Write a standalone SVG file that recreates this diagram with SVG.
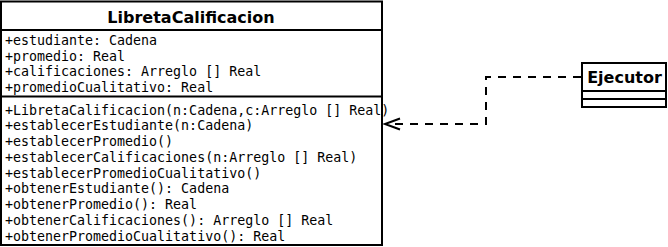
<svg xmlns="http://www.w3.org/2000/svg" width="668" height="247" viewBox="0 0 668 247">
  <style>
    .box { fill: #ffffff; stroke: #000000; stroke-width: 2; }
    .sep { stroke: #000000; stroke-width: 2; fill: none; }
    .title { font-family: "DejaVu Sans", sans-serif; font-weight: bold; font-size: 16px; fill: #000000; text-anchor: middle; }
    .member { font-family: "DejaVu Sans Mono", monospace; font-size: 13.3px; fill: #000000; }
    .dep { stroke: #000000; stroke-width: 2; fill: none; stroke-dasharray: 8 7; }
    .head { stroke: #000000; stroke-width: 2; fill: none; }
  </style>

  <g id="LibretaCalificacion">
    <rect class="box" x="1" y="1.5" width="381" height="243.5"/>
    <text class="title" x="191" y="22.5">LibretaCalificacion</text>
    <line class="sep" x1="1" y1="30" x2="382" y2="30"/>
    <text class="member" x="5" y="45">+estudiante: Cadena</text>
    <text class="member" x="5" y="60.7">+promedio: Real</text>
    <text class="member" x="5" y="76.4">+calificaciones: Arreglo [] Real</text>
    <text class="member" x="5" y="92">+promedioCualitativo: Real</text>
    <line class="sep" x1="1" y1="96.5" x2="382" y2="96.5"/>
    <text class="member" x="5" y="114.5">+LibretaCalificacion(n:Cadena,c:Arreglo [] Real)</text>
    <text class="member" x="5" y="130.3">+establecerEstudiante(n:Cadena)</text>
    <text class="member" x="5" y="146">+establecerPromedio()</text>
    <text class="member" x="5" y="161.8">+establecerCalificaciones(n:Arreglo [] Real)</text>
    <text class="member" x="5" y="177.5">+establecerPromedioCualitativo()</text>
    <text class="member" x="5" y="193.3">+obtenerEstudiante(): Cadena</text>
    <text class="member" x="5" y="209">+obtenerPromedio(): Real</text>
    <text class="member" x="5" y="224.8">+obtenerCalificaciones(): Arreglo [] Real</text>
    <text class="member" x="5" y="240.5">+obtenerPromedioCualitativo(): Real</text>
  </g>

  <g id="Ejecutor">
    <rect class="box" x="582" y="63" width="84" height="44"/>
    <text class="title" x="624.5" y="83">Ejecutor</text>
    <line class="sep" x1="582" y1="91" x2="666" y2="91"/>
    <line class="sep" x1="582" y1="99" x2="666" y2="99"/>
  </g>

  <g id="connectors">
    <path class="dep" d="M 581 77 L 486 77 L 486 124 L 385 124"/>
    <path class="head" d="M 400 118.5 L 385 124 L 400 129.5"/>
  </g>
</svg>
